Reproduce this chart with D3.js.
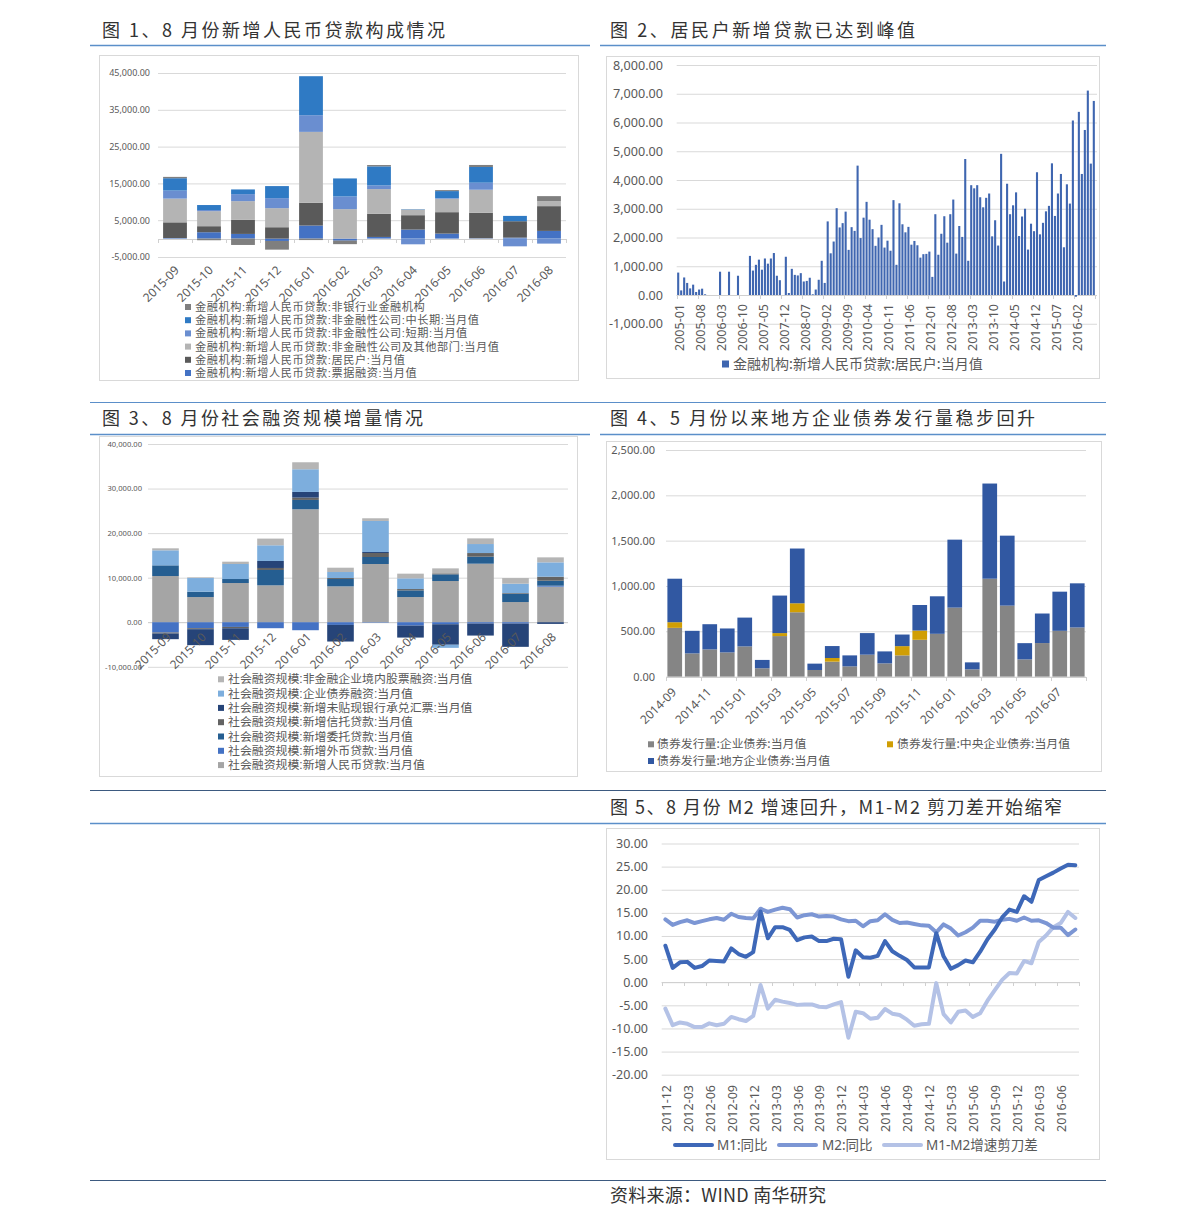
<!DOCTYPE html>
<html><head><meta charset="utf-8">
<script src="https://cdn.jsdelivr.net/npm/d3@7"></script>
<style>
html,body{margin:0;padding:0;background:#fff;}
svg{display:block;}
</style></head>
<body>
<svg id="c" width="1191" height="1226"></svg>
<script>
// ---------- Chart 1 data ----------
const c1Months = ["2015-09","2015-10","2015-11","2015-12","2016-01","2016-02","2016-03","2016-04","2016-05","2016-06","2016-07","2016-08"];
const c1Names = ["金融机构:新增人民币贷款:非银行业金融机构","金融机构:新增人民币贷款:非金融性公司:中长期:当月值","金融机构:新增人民币贷款:非金融性公司:短期:当月值","金融机构:新增人民币贷款:非金融性公司及其他部门:当月值","金融机构:新增人民币贷款:居民户:当月值","金融机构:新增人民币贷款:票据融资:当月值"];
const c1Bill      = [150, 1730, 1270, -640, 3550, -550, 450, 2450, 1360, 100, 270, 2090];
const c1Household = [4270, 1640, 3820, 3090, 6180, -60, 6270, 3910, 5820, 6910, 4450, 6730];
const c1Corp      = [6450, 4090, 5090, 5180, 19270, 8000, 6730, 1550, 3640, 6270, 0, 1360];
const c1Short     = [2180, 300, 1910, 2730, 4530, 3450, 1000, -1550, 180, 1910, -2100, -1360];
const c1Long      = [3360, 1360, 1270, 3270, 10600, 4900, 5180, 100, 1910, 4270, 1450, 0];
const c1NonBank   = [360, -450, -1730, -2360, -400, -900, 360, 0, 270, 550, 0, 1360];
const c1Ticks = [-5000, 5000, 15000, 25000, 35000, 45000];

// ---------- Chart 2 data ----------
const c2Household = [780,160,610,420,230,360,105,190,220,25,
  null,null,null,null,810,null,null,810,null,null,670,null,null,null,
  1360,850,1050,1230,880,1270,1090,1270,1460,670,515,null,
  1330,70,910,700,680,760,470,490,600,25,190,530,1190,420,
  2560,1450,1860,3020,2350,2500,2900,1570,2360,2230,
  4500,1980,2690,3240,2620,2290,1710,2000,2440,1650,
  1890,1540,3300,1050,3190,2460,2180,2370,1750,1880,
  1730,1300,1420,1430,1510,630,2810,1400,2130,2740,
  1820,2810,3320,1440,2400,2020,4730,1190,3820,3710,
  3820,3400,3050,3380,3530,2040,2600,1720,4910,470,
  3870,2810,3120,3570,2050,2730,3000,1580,2480,2220,
  4270,2110,2510,2910,3100,4580,2750,3530,4210,1660,
  3850,3180,6070,-60,6370,4210,5740,7110,4570,6750];
const c2TickLabels = ["2005-01","2005-08","2006-03","2006-10","2007-05","2007-12","2008-07","2009-02","2009-09","2010-04","2010-11","2011-06","2012-01","2012-08","2013-03","2013-10","2014-05","2014-12","2015-07","2016-02"];
const c2Ticks = [-1000,0,1000,2000,3000,4000,5000,6000,7000,8000];
const c2Name = "金融机构:新增人民币贷款:居民户:当月值";

// ---------- Chart 3 data ----------
const c3Months = c1Months;
const c3Names = ["社会融资规模:非金融企业境内股票融资:当月值","社会融资规模:企业债券融资:当月值","社会融资规模:新增未贴现银行承兑汇票:当月值","社会融资规模:新增信托贷款:当月值","社会融资规模:新增委托贷款:当月值","社会融资规模:新增外币贷款:当月值","社会融资规模:新增人民币贷款:当月值"];
const c3Rmb     = [10370, 5650, 8800, 8280, 25350, 8050, 13070, 5650, 9250, 13140, 4530, 7980];
const c3Fx      = [-2310, -1340, -1050, -1340, -1790, -600, -100, -750, -450, -300, -300, 220];
const c3Entrust = [2400, 1200, 900, 3450, 2100, 1650, 1570, 1500, 1500, 1570, 1870, 1120];
const c3Trust   = [-220, -220, -300, 450, 520, 220, 900, 300, 220, 820, 150, 900];
const c3Undisc  = [-1270, -3580, -2610, 1570, 1270, -3730, 220, -2690, -4600, -2690, -5220, -370];
const c3Bond    = [3370, 3070, 3370, 3520, 5090, 1350, 6970, 2400, -700, 2020, 2100, 3220];
const c3Equity  = [450, 150, 520, 1500, 1570, 970, 600, 1050, 1120, 1270, 1270, 1120];
const c3Ticks = [-10000, 0, 10000, 20000, 30000, 40000];

// ---------- Chart 4 data ----------
const c4Months = ["2014-09","2014-10","2014-11","2014-12","2015-01","2015-02","2015-03","2015-04","2015-05","2015-06","2015-07","2015-08","2015-09","2015-10","2015-11","2015-12","2016-01","2016-02","2016-03","2016-04","2016-05","2016-06","2016-07","2016-08"];
const c4Names = ["债券发行量:企业债券:当月值","债券发行量:中央企业债券:当月值","债券发行量:地方企业债券:当月值"];
const c4Corp    = [538,256,300,267,333,92,447,710,73,165,113,242,146,234,406,472,761,80,1080,783,190,370,505,542];
const c4Central = [62,0,0,0,0,0,33,99,0,40,0,0,0,102,102,0,0,0,0,0,0,0,0,0];
const c4Local   = [480,249,278,264,318,92,414,604,70,132,121,238,132,128,282,414,750,77,1050,772,179,326,432,487];
const c4Ticks = [0,500,1000,1500,2000,2500];

// ---------- Chart 5 data ----------
const c5TickLabels = ["2011-12","2012-03","2012-06","2012-09","2012-12","2013-03","2013-06","2013-09","2013-12","2014-03","2014-06","2014-09","2014-12","2015-03","2015-06","2015-09","2015-12","2016-03","2016-06"];
const c5Names = ["M1:同比","M2:同比","M1-M2增速剪刀差"];
const c5M1 = [7.9, 3.1,4.3,4.4,3.1,3.5,4.7,4.6,4.5,7.3,6.1,5.5,6.5, 15.3,9.5,11.9,11.9,11.3,9.1,9.7,9.9,8.9,8.9,9.4,9.3, 1.2,6.9,5.4,5.3,5.7,8.9,6.7,5.7,4.8,3.2,3.2,3.2, 10.6,5.6,2.9,3.7,4.7,4.3,6.6,9.3,11.4,14.0,15.7,15.2, 18.6,17.4,22.1,22.9,23.7,24.6,25.4,25.3];
const c5M2 = [13.6, 12.4,13.0,13.4,12.8,13.2,13.6,13.9,13.5,14.8,14.1,13.9,13.8, 15.9,15.2,15.7,16.1,15.8,14.0,14.5,14.7,14.2,14.3,14.2,13.6, 13.2,13.3,12.1,13.2,13.4,14.7,13.5,12.8,12.9,12.6,12.3,12.2, 10.8,12.5,11.6,10.1,10.8,11.8,13.3,13.3,13.1,13.5,13.7,13.3, 14.0,13.3,13.4,12.8,11.8,11.8,10.2,11.4];
const c5Spread = [-5.7, -9.3,-8.7,-9.0,-9.7,-9.7,-8.9,-9.3,-9.0,-7.5,-8.0,-8.4,-7.3, -0.6,-5.7,-3.8,-4.2,-4.5,-4.9,-4.8,-4.8,-5.3,-5.4,-4.8,-4.3, -12.0,-6.4,-6.7,-7.9,-7.7,-5.8,-6.8,-7.1,-8.1,-9.4,-9.1,-9.0, -0.2,-6.9,-8.7,-6.4,-6.1,-7.5,-6.7,-4.0,-1.7,0.5,2.0,1.9, 4.6,4.1,8.7,10.1,11.9,12.8,15.2,13.9];
const c5Ticks = [-20,-15,-10,-5,0,5,10,15,20,25,30];

// ---------- Titles ----------
const titles = [
  {t:"图 1、8 月份新增人民币贷款构成情况", x:102, y:37, w:343},
  {t:"图 2、居民户新增贷款已达到峰值", x:610, y:37, w:305},
  {t:"图 3、8 月份社会融资规模增量情况", x:102, y:425, w:321},
  {t:"图 4、5 月份以来地方企业债券发行量稳步回升", x:610, y:425, w:425},
  {t:"图 5、8 月份 M2 增速回升，M1-M2 剪刀差开始缩窄", x:610, y:814, w:452},
  {t:"资料来源：WIND 南华研究", x:610, y:1202, w:216}
];

// ---------- helpers ----------
const svg = d3.select("#c");
const FONT = "'Noto Sans','Noto Sans CJK SC',sans-serif";
const CJK = "'Noto Sans CJK SC','Noto Sans',sans-serif";
const TIGHT = "'Liberation Sans','Noto Sans CJK SC',sans-serif";
const LABEL = "#595959";
const GRID = "#D9D9D9";
const loc = d3.formatLocale({decimal:".", thousands:",", grouping:[3], currency:["",""], minus:"-"});
const fmt = loc.format(",.2f");

function frame(x,y,w,h){
  svg.append("rect").attr("x",x+0.5).attr("y",y+0.5).attr("width",w).attr("height",h)
    .attr("fill","#fff").attr("stroke","#D9D9D9");
}
function hline(x1,x2,y,color,w){
  svg.append("line").attr("x1",x1).attr("x2",x2).attr("y1",y).attr("y2",y)
    .attr("stroke",color).attr("stroke-width",w);
}
function gridAxis(y, tickVals, x0, x1, labelRight, fs){
  const g = svg.append("g").attr("transform",`translate(${x0},0)`);
  g.call(d3.axisLeft(y).tickValues(tickVals).tickFormat(fmt).tickSize(-(x1-x0)).tickPadding(x0-labelRight));
  g.select(".domain").remove();
  g.selectAll(".tick line").attr("stroke",GRID).attr("stroke-width",1);
  g.selectAll(".tick text").attr("fill",LABEL).style("font-family",FONT).style("font-size",fs+"px");
}
function zeroAxis(x0,x1,y0,tickXs){
  const g = svg.append("g");
  g.append("line").attr("x1",x0).attr("x2",x1).attr("y1",Math.round(y0)+0.5).attr("y2",Math.round(y0)+0.5).attr("stroke","#D0D0D0");
  g.selectAll("line.t").data(tickXs).enter().append("line").attr("class","t")
    .attr("x1",d=>Math.round(d)+0.5).attr("x2",d=>Math.round(d)+0.5)
    .attr("y1",Math.round(y0)).attr("y2",Math.round(y0)+4).attr("stroke","#D0D0D0");
}
function rotLabels(labels, xpos, ypos, angle, fs){
  svg.append("g").selectAll("text").data(labels).enter().append("text")
    .attr("transform",d=>`translate(${xpos(d)},${ypos}) rotate(${angle})`)
    .attr("text-anchor","end").attr("dy","0.35em")
    .attr("fill",LABEL).style("font-family",FONT).style("font-size",fs+"px")
    .text(d=>d);
}
function stackBars(data, keys, colors, x, y){
  const series = d3.stack().keys(keys).offset(d3.stackOffsetDiverging)(data);
  svg.append("g").selectAll("g").data(series).enter().append("g").attr("fill",(d,i)=>colors[i])
    .selectAll("rect").data(d=>d).enter().append("rect")
    .attr("x",d=>x(d.data.cat)).attr("width",x.bandwidth())
    .attr("y",d=>y(Math.max(d[0],d[1]))).attr("height",d=>Math.abs(y(d[0])-y(d[1])));
}
function legendSq(items, fs, size, family, ls){
  const g = svg.append("g");
  items.forEach(it=>{
    g.append("rect").attr("x",it.x).attr("y",it.y-size/2).attr("width",size).attr("height",size).attr("fill",it.c);
    g.append("text").attr("x",it.tx).attr("y",it.y).attr("dy","0.35em").attr("fill",LABEL)
      .style("font-family",family||CJK).style("font-size",fs+"px")
      .style("letter-spacing",(ls||0)+"px").text(it.t);
  });
}

// ---------- page furniture ----------
titles.forEach(d=>{
  svg.append("text").attr("x",d.x).attr("y",d.y).attr("textLength",d.w).attr("lengthAdjust","spacing")
    .attr("fill","#333").style("font-family",CJK).style("font-size","18px").text(d.t);
});
hline(90,590,45.5,"#5B8FC9",1.5);
hline(600,1106,45.5,"#5B8FC9",1.5);
hline(90,1106,402.5,"#5B8FC9",1.2);
hline(90,590,434.5,"#5B8FC9",1.5);
hline(600,1106,434.5,"#5B8FC9",1.5);
hline(90,1106,790.5,"#3D5A80",1.2);
hline(90,1106,823.5,"#5B8FC9",1.5);
hline(90,1106,1180.5,"#3D5A80",1.2);

frame(99,55,479,325);
frame(606,56,493,322);
frame(99,436,478,340);
frame(606,441,495,330);
frame(606,828,493,331);

// ---------- Chart 1 ----------
{
  const x = d3.scaleBand().domain(c1Months).range([158,566]).paddingInner(0.3).paddingOuter(0.15);
  const y = d3.scaleLinear().domain([-5000,45000]).range([257,73]);
  gridAxis(y, c1Ticks, 158, 566, 150, 9);
  const keys = ["bill","house","corp","short","long","nonbank"];
  const colors = ["#4472C4","#5A5A5A","#B4B4B4","#6A8ED0","#2F7AC4","#7F7F7F"];
  const data = c1Months.map((m,i)=>({cat:m,bill:c1Bill[i],house:c1Household[i],corp:c1Corp[i],short:c1Short[i],long:c1Long[i],nonbank:c1NonBank[i]}));
  zeroAxis(158,566,y(0), d3.range(c1Months.length+1).map(i=>158+i*(408/12)));
  stackBars(data, keys, colors, x, y);
  rotLabels(c1Months, d=>x(d)+x.bandwidth()/2+2, 268, -45, 12);
  const lc = ["#7F7F7F","#2F7AC4","#6A8ED0","#B4B4B4","#5A5A5A","#4472C4"];
  const ly = [307,320.2,333.4,346.6,359.8,373];
  legendSq(c1Names.map((t,i)=>({t, c:lc[i], x:185, tx:195, y:ly[i]})), 11.2, 6, TIGHT, 0.55);
}

// ---------- Chart 2 ----------
{
  const cats = d3.range(c2Household.length);
  const x = d3.scaleBand().domain(cats).range([676.7,1095.3]).paddingInner(0.3).paddingOuter(0.15);
  const y = d3.scaleLinear().domain([-1000,8000]).range([323.75,65]);
  gridAxis(y, c2Ticks, 676.7, 1097, 663, 12.6);
  const w = (1095.3-676.7)/cats.length;
  zeroAxis(676.7,1097,y(0), d3.range(0,cats.length+1,7).map(i=>676.7+i*w));
  svg.append("g").selectAll("rect").data(cats.filter(i=>c2Household[i]!=null)).enter().append("rect")
    .attr("x",i=>x(i)).attr("width",x.bandwidth())
    .attr("y",i=>y(Math.max(0,c2Household[i]))).attr("height",i=>Math.abs(y(c2Household[i])-y(0)))
    .attr("fill","#3F66B0");
  const lblPos = {};
  c2TickLabels.forEach((l,k)=>{ lblPos[l] = 676.7 + (k*7+0.5)*w + 1.5; });
  rotLabels(c2TickLabels, d=>lblPos[d], 304, -90, 12.5);
  legendSq([{t:c2Name, c:"#3F66B0", x:722, tx:733, y:364}], 14, 7);
}

// ---------- Chart 3 ----------
{
  const x = d3.scaleBand().domain(c3Months).range([148,568]).paddingInner(0.24).paddingOuter(0.12);
  const y = d3.scaleLinear().domain([-10000,40000]).range([666.8,444]);
  gridAxis(y, c3Ticks, 148, 568, 142, 7.6);
  zeroAxis(148,568,y(0), []);
  const keys = ["rmb","fx","entrust","trust","undisc","bond","equity"];
  const colors = ["#A5A5A5","#4472C4","#255E91","#636363","#264478","#7DAEDD","#B5B5B5"];
  const data = c3Months.map((m,i)=>({cat:m,rmb:c3Rmb[i],fx:c3Fx[i],entrust:c3Entrust[i],trust:c3Trust[i],undisc:c3Undisc[i],bond:c3Bond[i],equity:c3Equity[i]}));
  stackBars(data, keys, colors, x, y);
  rotLabels(c3Months, d=>x(d)+x.bandwidth()/2+3.5, 635, -45, 12);
  const lc = ["#B5B5B5","#7DAEDD","#264478","#636363","#255E91","#4472C4","#A5A5A5"];
  const ly = [679.3,693.6,707.9,722.2,736.5,750.8,765.1];
  legendSq(c3Names.map((t,i)=>({t, c:lc[i], x:218, tx:228, y:ly[i]})), 11.9, 6, TIGHT, 0);
}

// ---------- Chart 4 ----------
{
  const x = d3.scaleBand().domain(c4Months).range([666,1086]).paddingInner(0.16).paddingOuter(0.08);
  const y = d3.scaleLinear().domain([0,2500]).range([676.6,450]);
  gridAxis(y, c4Ticks, 666, 1086, 655, 11);
  const w = 420/c4Months.length;
  zeroAxis(666,1086,y(0), d3.range(0,c4Months.length+1,2).map(i=>666+i*w));
  const keys = ["corp","central","local"];
  const colors = ["#858585","#D09E04","#3158A2"];
  const data = c4Months.map((m,i)=>({cat:m,corp:c4Corp[i],central:c4Central[i],local:c4Local[i]}));
  stackBars(data, keys, colors, x, y);
  const shown = c4Months.filter((m,i)=>i%2===0);
  rotLabels(shown, d=>x(d)+x.bandwidth()/2-0.5, 690, -45, 12);
  legendSq([
    {t:c4Names[0], c:"#858585", x:648, tx:657, y:744.3},
    {t:c4Names[1], c:"#D09E04", x:887, tx:897, y:744.3},
    {t:c4Names[2], c:"#3158A2", x:648, tx:657, y:761}
  ], 11.9, 6);
}

// ---------- Chart 5 ----------
{
  const cats = d3.range(c5M1.length);
  const x = d3.scaleBand().domain(cats).range([661.7,1079]).padding(0);
  const y = d3.scaleLinear().domain([-20,30]).range([1074.7,843.5]);
  gridAxis(y, c5Ticks, 661.7, 1079, 648, 12.5);
  const w = x.bandwidth();
  zeroAxis(661.7,1079,y(0), d3.range(0,cats.length+1,3).map(i=>661.7+i*w));
  const colors = ["#3E68B8","#7C96D4","#B4C2E6"];
  const series = [c5M1, c5M2, c5Spread];
  const line = d3.line().x((d,i)=>x(i)+w/2).y(d=>y(d));
  [2,1,0].forEach(k=>{
    svg.append("path").datum(series[k]).attr("d",line).attr("fill","none")
      .attr("stroke",colors[k]).attr("stroke-width",4).attr("stroke-linejoin","round").attr("stroke-linecap","round");
  });
  const lblPos = {};
  c5TickLabels.forEach((l,k)=>{ lblPos[l] = x(k*3)+w/2+1; });
  rotLabels(c5TickLabels, d=>lblPos[d], 1085, -90, 12.5);
  const leg = [{x1:675,x2:712,tx:717},{x1:779,x2:816,tx:822},{x1:884,x2:921,tx:926}];
  leg.forEach((l,k)=>{
    svg.append("line").attr("x1",l.x1).attr("x2",l.x2).attr("y1",1145).attr("y2",1145)
      .attr("stroke",colors[k]).attr("stroke-width",4).attr("stroke-linecap","round");
    svg.append("text").attr("x",l.tx).attr("y",1145).attr("dy","0.35em").attr("fill",LABEL)
      .style("font-family",FONT).style("font-size","13.5px").text(c5Names[k]);
  });
}
</script>
</body></html>
